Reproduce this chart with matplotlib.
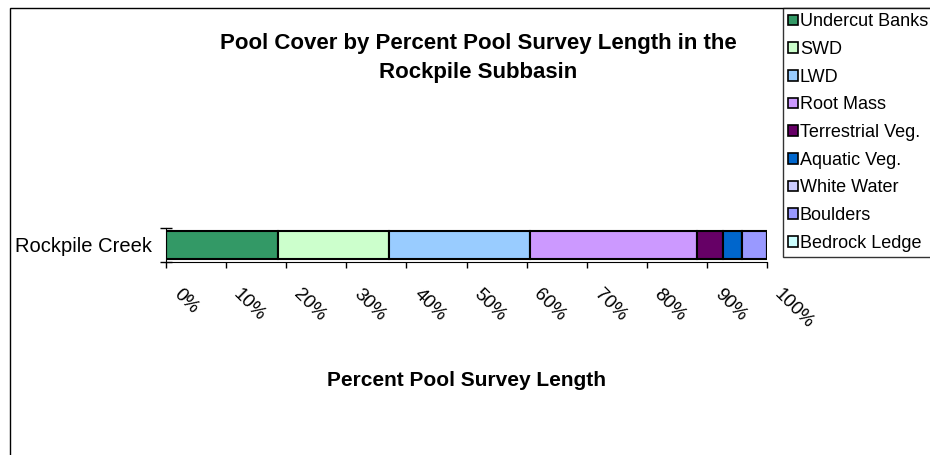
import matplotlib
matplotlib.use("Agg")
import matplotlib.pyplot as plt
from matplotlib.patches import Rectangle
from matplotlib.transforms import ScaledTranslation

plt.rcParams['font.family'] = ['Liberation Sans', 'DejaVu Sans']

# pool cover types and their share of pool survey length (%)
cover_types = ['Undercut Banks', 'SWD', 'LWD', 'Root Mass', 'Terrestrial Veg.',
               'Aquatic Veg.', 'White Water', 'Boulders', 'Bedrock Ledge']
percents = [18.7, 18.4, 23.4, 27.9, 4.2, 3.3, 0.0, 4.1, 0.0]
colors = ['#339966', '#CCFFCC', '#99CCFF', '#CC99FF', '#660066',
          '#0066CC', '#CCCCFF', '#9999FF', '#CCFFFF']
creek = 'Rockpile Creek'
tick_labels = ['0%', '10%', '20%', '30%', '40%', '50%', '60%', '70%', '80%', '90%', '100%']

fig = plt.figure(figsize=(9.3, 4.55), dpi=100)
W, H = 930, 455

# chart border
fig.patches.append(Rectangle((10 / W, -0.1), 1.0, 1 - 8 / H + 0.1, transform=fig.transFigure,
                             fill=False, edgecolor='black', linewidth=1.0))

ax = fig.add_axes([166 / W, 1 - 262 / H, (767 - 166) / W, 34 / H])

handles = []
left = 0
for name, val, c in zip(cover_types, percents, colors):
    b = ax.barh(0, val, left=left, height=0.85, color=c, edgecolor='black',
                linewidth=1.5, label=name)
    handles.append(b)
    left += val

ax.set_xlim(0, 100)
ax.set_ylim(-0.5, 0.5)
ax.set_xticks(range(0, 101, 10))
ax.set_xticklabels(tick_labels, rotation=-45, ha='left', va='center',
                   rotation_mode='anchor', fontsize=13.5)
ax.tick_params(axis='x', direction='out', length=4.5, width=1, pad=17)
shift = ScaledTranslation(0.10, 0, fig.dpi_scale_trans)
for lbl in ax.get_xticklabels():
    lbl.set_transform(lbl.get_transform() + shift)
ax.set_yticks([0])
ax.set_yticklabels([creek], fontsize=14.5)
ax.tick_params(axis='y', length=0, pad=10)
ax.set_yticks([-0.5, 0.5], minor=True)
ax.tick_params(axis='y', which='minor', direction='inout', length=9, width=1)
for s in ['top', 'right']:
    ax.spines[s].set_visible(False)

fig.text(478 / W, 1 - 58 / H,
         'Pool Cover by Percent Pool Survey Length in the\nRockpile Subbasin',
         ha='center', va='center', fontsize=16, fontweight='bold', linespacing=1.45)
fig.text(466 / W, 1 - 380 / H, 'Percent Pool Survey Length',
         ha='center', va='center', fontsize=15, fontweight='bold')

leg = fig.legend(handles=handles, labels=cover_types, loc='upper left',
                 bbox_to_anchor=(783 / W, 1 - 8 / H), fontsize=13,
                 frameon=True, fancybox=False, borderaxespad=0, borderpad=0.3,
                 handlelength=0.52, handleheight=0.52, handletextpad=0.12,
                 labelspacing=0.59)
leg.get_frame().set_edgecolor('black')
leg.get_frame().set_linewidth(1.0)
for p in leg.get_patches():
    p.set_linewidth(1.2)

fig.savefig('out.png', dpi=100)
